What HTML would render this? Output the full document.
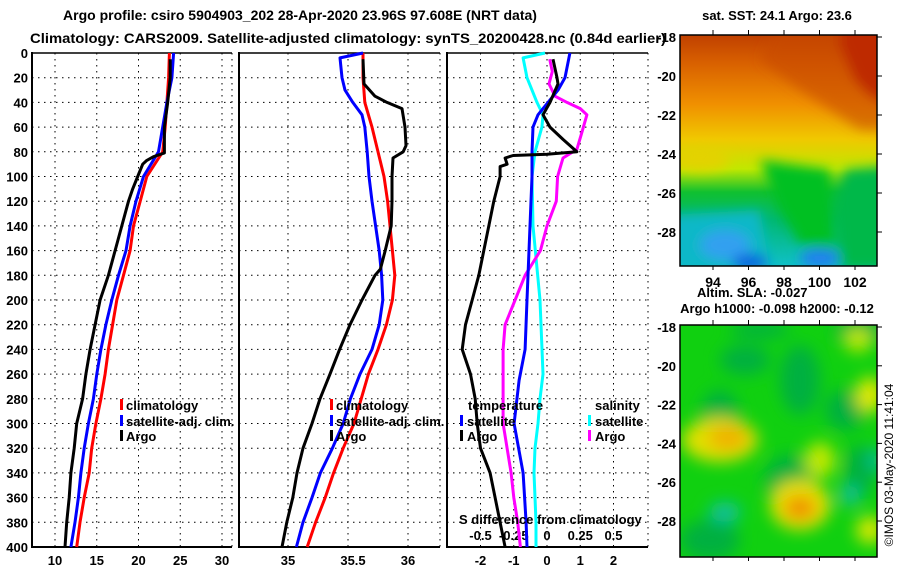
<!DOCTYPE html>
<html><head><meta charset="utf-8"><style>
html,body{margin:0;padding:0;background:#fff}
svg{display:block;font-family:"Liberation Sans",sans-serif;font-weight:bold}
</style></head><body>
<svg id="c" width="900" height="580" viewBox="0 0 900 580" xmlns="http://www.w3.org/2000/svg">
<defs>
<linearGradient id="sstg" x1="0" y1="0" x2="0" y2="1">
<stop offset="0" stop-color="#c04000"/><stop offset="0.12" stop-color="#d86000"/><stop offset="0.3" stop-color="#f09000"/>
<stop offset="0.45" stop-color="#f0c800"/><stop offset="0.58" stop-color="#c0e800"/><stop offset="0.68" stop-color="#10c030"/>
<stop offset="0.8" stop-color="#00b870"/><stop offset="1" stop-color="#10c0c8"/></linearGradient>
<filter id="bl" x="-20%" y="-20%" width="140%" height="140%"><feGaussianBlur stdDeviation="6"/></filter>
<filter id="bl2" x="-30%" y="-30%" width="160%" height="160%"><feGaussianBlur stdDeviation="8"/></filter>
<clipPath id="cm1"><rect x="680" y="35" width="197" height="231"/></clipPath>
<clipPath id="cm2"><rect x="680" y="325" width="197" height="232"/></clipPath>
</defs>
<text x="300" y="20" text-anchor="middle" font-size="14">Argo profile: csiro 5904903_202 28-Apr-2020 23.96S 97.608E (NRT data)</text>
<text x="30" y="43" font-size="13.5" textLength="636" lengthAdjust="spacingAndGlyphs">Climatology: CARS2009. Satellite-adjusted climatology: synTS_20200428.nc (0.84d earlier)</text>
<g id="panels"></g>
<g id="maps"></g>
</svg>
<script>
const NS="http://www.w3.org/2000/svg";
const svg=document.getElementById('c');
const P=document.getElementById('panels');
function mk(tag,attrs,parent){const e=document.createElementNS(NS,tag);for(const k in attrs)e.setAttribute(k,attrs[k]);(parent||P).appendChild(e);return e;}

// ---- data ----
const depthTicks=[0,20,40,60,80,100,120,140,160,180,200,220,240,260,280,300,320,340,360,380,400];
// Panel 1 temperature
const tempTicks=[10,15,20,25,30];
const climDepth=[0,20,40,60,80,100,120,140,160,180,200,220,240,260,280,300,320,340,360,380,400];
const climTemp=[23.7,23.6,23.4,23.2,22.9,21.0,20.2,19.4,19.0,18.2,17.4,16.9,16.4,16.0,15.5,14.9,14.4,14.1,13.5,13.0,12.6];
const satTemp=[24.2,24.0,23.4,22.9,22.4,20.6,19.7,19.0,18.5,17.6,16.8,16.1,15.5,15.0,14.6,14.0,13.5,13.1,12.8,12.4,11.9];
const argoDepth=[5,20,40,60,81,84,87,90,100,110,120,140,160,180,200,220,240,260,280,300,320,340,360,380,400];
const argoTemp=[23.8,23.8,23.5,23.1,23.1,21.8,21.0,20.5,19.9,19.3,18.8,18.0,17.2,16.4,15.4,14.8,14.2,13.7,13.3,12.6,12.3,11.9,11.7,11.4,11.2];
// Panel 2 salinity
const salTicks=[35,35.5,36];
const climSal=[35.625,35.625,35.64,35.70,35.75,35.80,35.83,35.85,35.87,35.89,35.87,35.82,35.75,35.67,35.61,35.55,35.46,35.38,35.31,35.23,35.16];
const satSalDepth=[0,4,20,30,40,50,60,80,100,120,140,160,180,200,220,240,260,280,300,320,340,360,380,400];
const satSal=[35.625,35.433,35.45,35.475,35.54,35.617,35.64,35.66,35.675,35.70,35.73,35.76,35.78,35.79,35.76,35.70,35.60,35.52,35.46,35.37,35.27,35.2,35.125,35.07];
const argoSalDepth=[5,25,35,40,45,60,75,80,85,100,120,140,160,175,180,200,220,240,260,280,300,320,340,360,380,400];
const argoSal=[35.625,35.633,35.725,35.825,35.95,35.975,35.983,35.96,35.875,35.867,35.867,35.86,35.81,35.77,35.725,35.617,35.517,35.43,35.35,35.267,35.2,35.125,35.075,35.04,34.99,34.95];
// Panel 3 differences
const dTTicks=[-2,-1,0,1,2];
const dSTicks=[-0.5,-0.25,0,0.25,0.5];
const dSTickLabels=['-0.5','-0.25','0','0.25','0.5'];
const satDTDepth=[0,20,30,40,50,60,80,100,140,200,240,265,300,340,380,400];
const satDT=[0.69,0.54,0.33,0.03,-0.27,-0.42,-0.45,-0.45,-0.51,-0.6,-0.66,-0.84,-0.99,-0.72,-0.63,-0.6];
const argoDTDepth=[5,20,25,40,50,60,70,80,82,83,85,90,92,100,120,140,160,180,200,220,240,260,280,300,320,340,360,380,400];
const argoDT=[0.18,0.3,0.33,0.09,-0.12,0.09,0.48,0.9,0,-1.02,-1.26,-1.2,-1.41,-1.41,-1.6,-1.75,-1.9,-2.05,-2.25,-2.45,-2.55,-2.3,-2.16,-2.1,-2.0,-1.71,-1.56,-1.41,-1.26];
const satDSDepth=[0,4,20,30,40,50,60,80,100,140,200,260,280,300,320,340,360,380,400];
const satDS=[-0.015,-0.18,-0.15,-0.113,-0.075,-0.03,-0.038,-0.09,-0.113,-0.105,-0.053,-0.03,-0.053,-0.068,-0.09,-0.098,-0.09,-0.083,-0.083];
const argoDSDepth=[5,15,25,35,40,45,50,65,78,85,100,120,140,160,180,200,220,240,265,280,300,320,340,360,380,400];
const argoDS=[0.02,0.04,0.015,0.06,0.15,0.25,0.30,0.26,0.225,0.12,0.08,0.07,0.0,-0.05,-0.165,-0.24,-0.315,-0.33,-0.33,-0.33,-0.33,-0.3,-0.27,-0.25,-0.22,-0.2];

// ---- axes ----
const Y=d=>53+d*(494/400);
const panels=[
 {x0:32,x1:232,sx:v=>55+(v-10)*(167/20),name:'temperature-panel'},
 {x0:239,x1:440,sx:v=>288+(v-35)*120,name:'salinity-panel'},
 {x0:447,x1:648,sx:v=>547+v*(133/4),name:'difference-panel'}
];
const sxS=v=>547+v*133;

function grid(p,ticks,sx){
  const g=mk('g',{});
  
  
  depthTicks.forEach(d=>{mk('line',{x1:p.x0,x2:p.x1,y1:Y(d),y2:Y(d),stroke:'#000','stroke-width':1,'stroke-dasharray':'1.5,4.5'},g);});
  ticks.forEach(v=>{mk('line',{x1:sx(v),x2:sx(v),y1:Y(0),y2:Y(400),stroke:'#000','stroke-width':1,'stroke-dasharray':'1.5,4.5'},g);});
  mk('line',{x1:p.x1,x2:p.x1,y1:Y(0),y2:Y(400),stroke:'#000','stroke-width':1,'stroke-dasharray':'1.5,4.5'},g);
  mk('line',{x1:p.x0,x2:p.x1,y1:Y(0),y2:Y(0),stroke:'#000','stroke-width':1.5},g);
  mk('line',{x1:p.x0,x2:p.x0,y1:Y(0)-1,y2:Y(400)+1,stroke:'#000','stroke-width':2},g);
  mk('line',{x1:p.x0,x2:p.x1,y1:Y(400),y2:Y(400),stroke:'#000','stroke-width':2},g);
}
function line(depths,vals,sx,color,name){
  const pts=depths.map((d,i)=>sx(vals[i]).toFixed(1)+','+Y(d).toFixed(1)).join(' ');
  const e=mk('polyline',{points:pts,fill:'none',stroke:color,'stroke-width':3,'stroke-linejoin':'round'});
  
  
}
function txt(x,y,s,anchor,size,name){
  const e=mk('text',{x:x,y:y,'text-anchor':anchor||'start','font-size':size||13});
  e.textContent=s;
  
  
  return e;
}
function legMark(x,y,color,name){
  const e=mk('rect',{x:x,y:y-11,width:3,height:11,fill:color});
  
  
}

grid(panels[0],tempTicks,panels[0].sx);
grid(panels[1],salTicks,panels[1].sx);
grid(panels[2],dTTicks,panels[2].sx);

depthTicks.forEach(d=>txt(28,Y(d)+5,String(d),'end',13,'depth-tick-label'));
tempTicks.forEach(v=>txt(panels[0].sx(v),565,String(v),'middle',13,'temperature-tick-label'));
salTicks.forEach(v=>txt(panels[1].sx(v)+(v===35.5?5:0),565,String(v),'middle',13,'salinity-tick-label'));
dTTicks.forEach(v=>txt(panels[2].sx(v),565,String(v),'middle',13,'temperature-diff-tick-label'));
dSTicks.forEach((v,i)=>txt(sxS(v),540,dSTickLabels[i],'middle',13,'salinity-diff-tick-label'));

line(climDepth,climTemp,panels[0].sx,'#f00','climatology-temp-line');
line(climDepth,satTemp,panels[0].sx,'#00f','satellite-temp-line');
line(argoDepth,argoTemp,panels[0].sx,'#000','argo-temp-line');
line(climDepth,climSal,panels[1].sx,'#f00','climatology-sal-line');
line(satSalDepth,satSal,panels[1].sx,'#00f','satellite-sal-line');
line(argoSalDepth,argoSal,panels[1].sx,'#000','argo-sal-line');
line(satDSDepth,satDS,sxS,'#0ff','satellite-sal-diff-line');
line(argoDSDepth,argoDS,sxS,'#f0f','argo-sal-diff-line');
line(satDTDepth,satDT,panels[2].sx,'#00f','satellite-temp-diff-line');
line(argoDTDepth,argoDT,panels[2].sx,'#000','argo-temp-diff-line');

// legends
[[120,126],[330,336]].forEach(([mx,tx],k)=>{
  legMark(mx,410,'#f00','legend-climatology-mark');txt(tx,410,'climatology','start',13,'legend-climatology');
  legMark(mx,426,'#00f','legend-satellite-mark');txt(tx,426,'satellite-adj. clim.','start',13,'legend-satellite-adj');
  legMark(mx,441,'#000','legend-argo-mark');txt(tx,441,'Argo','start',13,'legend-argo');
});
txt(468,410,'temperature','start',13,'legend-temperature-title');
legMark(460,426,'#00f','legend-temp-satellite-mark');txt(467,426,'satellite','start',13,'legend-temp-satellite');
legMark(460,441,'#000','legend-temp-argo-mark');txt(467,441,'Argo','start',13,'legend-temp-argo');
txt(595,410,'salinity','start',13,'legend-salinity-title');
legMark(588,426,'#0ff','legend-sal-satellite-mark');txt(595,426,'satellite','start',13,'legend-sal-satellite');
legMark(588,441,'#f0f','legend-sal-argo-mark');txt(595,441,'Argo','start',13,'legend-sal-argo');
txt(459,524,'S difference from climatology','start',13,'salinity-diff-axis-title');

// ---- maps ----
const M=document.getElementById('maps');
const lats=[-18,-20,-22,-24,-26,-28];
const lons=[94,96,98,100,102];
const lonX=v=>713+(v-94)*17.75;
function map(){
  const g=mk('g',{},M);
  return g;
}
// SST map
const g1=map();


const c1=mk('g',{'clip-path':'url(#cm1)'},g1);
mk('rect',{x:680,y:35,width:197,height:231,fill:'url(#sstg)'},c1);
const b1=mk('g',{filter:'url(#bl)'},c1);
mk('polygon',{points:'840,20 900,20 900,110 870,95 855,80 840,45',fill:'#b00000'},b1);
mk('polygon',{points:'780,20 900,20 900,130 860,130 800,90 760,60',fill:'#c84800',opacity:0.6},b1);
mk('polygon',{points:'845,170 900,165 900,270 840,270 835,200',fill:'#00b848'},b1);
mk('polygon',{points:'760,160 830,170 835,250 800,245 780,210',fill:'#00c020'},b1);
mk('polygon',{points:'670,215 760,210 770,270 670,270',fill:'#10b8c8'},b1);
mk('ellipse',{cx:725,cy:245,rx:25,ry:15,fill:'#30a0f0'},b1);
mk('ellipse',{cx:750,cy:262,rx:18,ry:8,fill:'#1060e0'},b1);
mk('ellipse',{cx:820,cy:258,rx:20,ry:10,fill:'#2080f0'},b1);
mk('ellipse',{cx:700,cy:160,rx:30,ry:12,fill:'#e8d000',opacity:0.8},b1);
mk('rect',{x:680,y:35,width:197,height:231,fill:'none',stroke:'#000','stroke-width':1.5},g1);
// SLA map
const g2=map();


const c2=mk('g',{'clip-path':'url(#cm2)'},g2);
mk('rect',{x:680,y:325,width:197,height:232,fill:'#10d010'},c2);
const b2=mk('g',{filter:'url(#bl2)'},c2);
[[745,360,25,15],[800,380,20,35],[720,420,20,30],[790,480,25,25],[860,330,25,15],[845,410,20,20],[710,540,30,20],[860,470,15,25],[760,330,30,8]].forEach(e=>mk('ellipse',{cx:e[0],cy:e[1],rx:e[2],ry:e[3],fill:'#00b040'},b2));
mk('ellipse',{cx:720,cy:440,rx:38,ry:22,fill:'#e0e000'},b2);
mk('ellipse',{cx:728,cy:438,rx:20,ry:12,fill:'#f0b000'},b2);
mk('ellipse',{cx:800,cy:505,rx:30,ry:25,fill:'#e8e000'},b2);
mk('ellipse',{cx:800,cy:508,rx:16,ry:12,fill:'#f09000'},b2);
mk('ellipse',{cx:820,cy:460,rx:15,ry:18,fill:'#c0e800'},b2);
mk('ellipse',{cx:870,cy:395,rx:14,ry:18,fill:'#e0e800'},b2);
mk('ellipse',{cx:870,cy:530,rx:14,ry:14,fill:'#d8e800'},b2);
mk('ellipse',{cx:858,cy:340,rx:14,ry:12,fill:'#c0e800'},b2);
mk('ellipse',{cx:725,cy:512,rx:16,ry:10,fill:'#10c0a0'},b2);
mk('ellipse',{cx:850,cy:495,rx:10,ry:10,fill:'#10c0a0'},b2);
mk('ellipse',{cx:876,cy:460,rx:6,ry:12,fill:'#10c0a0'},b2);
mk('rect',{x:680,y:325,width:197,height:232,fill:'none',stroke:'#000','stroke-width':1.5},g2);

lats.forEach(v=>{
  txt(676,37+(v+18)*-19.5+5,String(v),'end',13,'sst-lat-label');
  txt(676,327+(v+18)*-19.4+5,String(v),'end',13,'sla-lat-label');
  mk('line',{x1:877,x2:882,y1:37+(v+18)*-19.5,y2:37+(v+18)*-19.5,stroke:'#000'},M);
  mk('line',{x1:877,x2:882,y1:327+(v+18)*-19.4,y2:327+(v+18)*-19.4,stroke:'#000'},M);
});
lons.forEach(v=>{
  txt(lonX(v),287,String(v),'middle',14,'sst-lon-label');
  mk('line',{x1:lonX(v),x2:lonX(v),y1:266,y2:270,stroke:'#000'},M);
  mk('line',{x1:lonX(v),x2:lonX(v),y1:557,y2:561,stroke:'#000'},M);
  mk('line',{x1:lonX(v),x2:lonX(v),y1:30,y2:35,stroke:'#000'},M);
  mk('line',{x1:lonX(v),x2:lonX(v),y1:320,y2:325,stroke:'#000'},M);
});
</script>
<div style="position:absolute;left:0;top:0;width:900px;height:580px;pointer-events:none">
<svg width="900" height="580" style="position:absolute;left:0;top:0;font-family:'Liberation Sans',sans-serif;font-weight:bold">
<text x="777" y="20" text-anchor="middle" font-size="13">sat. SST: 24.1 Argo: 23.6</text>
<text x="697" y="297" font-size="13">Altim. SLA: -0.027</text>
<text x="777" y="313" text-anchor="middle" font-size="13">Argo h1000: -0.098 h2000: -0.12</text>
<text x="0" y="0" font-size="12" font-weight="normal" text-anchor="middle" transform="translate(893,465) rotate(-90)">©IMOS 03-May-2020 11:41:04</text>
</svg></div>
</body></html>
